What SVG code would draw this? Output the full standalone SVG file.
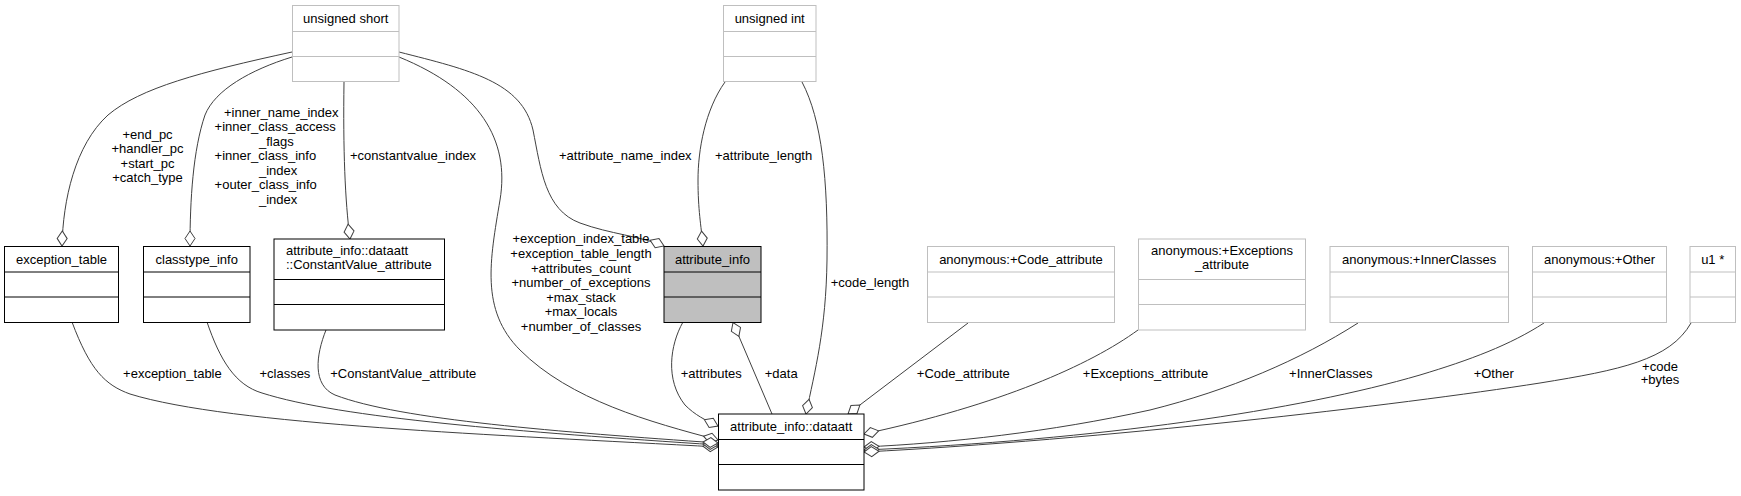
<svg xmlns="http://www.w3.org/2000/svg" width="1741" height="496" viewBox="0 0 1741 496">
<style>
text{font-family:"Liberation Sans",Arial,Helvetica,sans-serif;font-size:13px;fill:#000}
.m{text-anchor:middle}
.bk rect{fill:#fff;stroke:#000;stroke-width:1}
.gr rect{fill:#fff;stroke:#bfbfbf;stroke-width:1}
.bk line{stroke:#000;stroke-width:1}
.gr line{stroke:#bfbfbf;stroke-width:1}
.sel rect{fill:#bfbfbf}
#edges path{fill:none;stroke:#404040;stroke-width:1;marker-end:url(#od)}
</style>
<defs>
<marker id="od" markerUnits="userSpaceOnUse" markerWidth="18" markerHeight="14" viewBox="-1 -7 18 14" refX="16" refY="0" orient="auto">
<path d="M1,0 L8.5,-5 L16,0 L8.5,5 Z" fill="#fff" stroke="#404040" stroke-width="1"/>
</marker>
</defs>
<rect width="1741" height="496" fill="#fff"/>

<g id="edges">
<path d="M292,52 C200,72 140,88 108,115 C75,145 63,200 62,246"/>
<path d="M292,57 C250,70 215,90 205,115 C193,150 190,200 190,246"/>
<path d="M344,82 C343,150 345,200 350,239"/>
<path d="M399,57 C480,90 510,140 500,200 C490,260 480,310 520,350 C570,400 650,422 718,440"/>
<path d="M399,52 C470,70 522,82 533,130 C541,170 545,210 580,223 C610,234 640,236 664,246"/>
<path d="M725,82 C705,110 698,150 698,180 C698,210 701,225 703,246"/>
<path d="M802,82 C822,120 828,180 827,260 C826,330 815,370 806,414"/>
<path d="M683,322 C670,345 665,380 685,405 C695,415 705,420 718,426"/>
<path d="M772,414 L733,322.5"/>
<path d="M72,322 C90,370 105,385 130,394 C230,425 500,435 718,447"/>
<path d="M207,322 C220,360 235,385 262,393 C340,418 520,432 718,445"/>
<path d="M326,330 C316,355 312,385 335,395 C400,420 560,432 718,443"/>
<path d="M968,323 L848,414"/>
<path d="M1138,330 C1090,365 1000,405 864,434"/>
<path d="M1358,323 C1300,360 1230,390 1150,410 C1050,432 950,443 864,447"/>
<path d="M1544,323 C1510,345 1470,360 1420,375 C1300,410 1100,440 864,450"/>
<path d="M1691,323 C1670,360 1620,370 1540,383 C1400,405 1100,440 864,452"/>
</g>

<g id="edge-labels">
<text class="m" x="147.5" y="138.5">+end_pc</text>
<text class="m" x="147.5" y="153">+handler_pc</text>
<text class="m" x="147.5" y="167.5">+start_pc</text>
<text class="m" x="147.5" y="182">+catch_type</text>
<text x="224" y="116.7">+inner_name_index</text>
<text x="214.6" y="131.2">+inner_class_access</text>
<text x="259" y="145.7">_flags</text>
<text x="214.6" y="160.2">+inner_class_info</text>
<text x="259" y="174.7">_index</text>
<text x="214.6" y="189.2">+outer_class_info</text>
<text x="259" y="203.7">_index</text>
<text x="350" y="160">+constantvalue_index</text>
<text x="559" y="160">+attribute_name_index</text>
<text x="715" y="160">+attribute_length</text>
<text class="m" x="581" y="243.3">+exception_index_table</text>
<text class="m" x="581" y="258">+exception_table_length</text>
<text class="m" x="581" y="272.5">+attributes_count</text>
<text class="m" x="581" y="287">+number_of_exceptions</text>
<text class="m" x="581" y="301.5">+max_stack</text>
<text class="m" x="581" y="316">+max_locals</text>
<text class="m" x="581" y="330.5">+number_of_classes</text>
<text class="m" x="870" y="287.3">+code_length</text>
<text class="m" x="172.4" y="377.7">+exception_table</text>
<text class="m" x="284.9" y="377.7">+classes</text>
<text class="m" x="403.3" y="377.7">+ConstantValue_attribute</text>
<text class="m" x="711.3" y="377.7">+attributes</text>
<text class="m" x="781.2" y="377.7">+data</text>
<text class="m" x="963.3" y="377.7">+Code_attribute</text>
<text class="m" x="1145.5" y="377.7">+Exceptions_attribute</text>
<text class="m" x="1330.8" y="377.7">+InnerClasses</text>
<text class="m" x="1493.7" y="377.7">+Other</text>
<text class="m" x="1660" y="370.7">+code</text>
<text class="m" x="1660" y="384.3">+bytes</text>
</g>

<g id="unsigned_short" class="gr">
<rect x="292.5" y="5.5" width="106.5" height="76"/>
<line x1="292.5" y1="31.5" x2="399" y2="31.5"/><line x1="292.5" y1="56.5" x2="399" y2="56.5"/>
<text class="m" x="345.7" y="22.5">unsigned short</text>
</g>
<g id="unsigned_int" class="gr">
<rect x="723.5" y="5.5" width="92.5" height="76"/>
<line x1="723.5" y1="31.5" x2="816" y2="31.5"/><line x1="723.5" y1="56.5" x2="816" y2="56.5"/>
<text class="m" x="769.7" y="22.5">unsigned int</text>
</g>
<g id="exception_table" class="bk">
<rect x="4.5" y="246.5" width="114" height="76"/>
<line x1="4.5" y1="272" x2="118.5" y2="272"/><line x1="4.5" y1="297" x2="118.5" y2="297"/>
<text class="m" x="61.5" y="263.5">exception_table</text>
</g>
<g id="classtype_info" class="bk">
<rect x="143.5" y="246.5" width="106.5" height="76"/>
<line x1="143.5" y1="272" x2="250" y2="272"/><line x1="143.5" y1="297" x2="250" y2="297"/>
<text class="m" x="196.7" y="263.5">classtype_info</text>
</g>
<g id="constantvalue_attribute" class="bk">
<rect x="274" y="239" width="170.5" height="91"/>
<line x1="274" y1="279.5" x2="444.5" y2="279.5"/><line x1="274" y1="304.5" x2="444.5" y2="304.5"/>
<text x="286" y="254.5">attribute_info::dataatt</text>
<text x="286" y="269">::ConstantValue_attribute</text>
</g>
<g id="attribute_info" class="bk sel">
<rect x="664" y="246.5" width="97" height="76"/>
<line x1="664" y1="272" x2="761" y2="272"/><line x1="664" y1="297" x2="761" y2="297"/>
<text class="m" x="712.5" y="263.5">attribute_info</text>
</g>
<g id="dataatt" class="bk">
<rect x="718.5" y="414" width="145.5" height="76"/>
<line x1="718.5" y1="439.5" x2="864" y2="439.5"/><line x1="718.5" y1="464.5" x2="864" y2="464.5"/>
<text class="m" x="791.2" y="431">attribute_info::dataatt</text>
</g>
<g id="code_attribute" class="gr">
<rect x="927.5" y="246.5" width="187" height="76"/>
<line x1="927.5" y1="272" x2="1114.5" y2="272"/><line x1="927.5" y1="297" x2="1114.5" y2="297"/>
<text class="m" x="1021" y="263.5">anonymous:+Code_attribute</text>
</g>
<g id="exceptions_attribute" class="gr">
<rect x="1138.5" y="239" width="167" height="91"/>
<line x1="1138.5" y1="279.5" x2="1305.5" y2="279.5"/><line x1="1138.5" y1="304.5" x2="1305.5" y2="304.5"/>
<text class="m" x="1222" y="254.5">anonymous:+Exceptions</text>
<text class="m" x="1222" y="269">_attribute</text>
</g>
<g id="innerclasses" class="gr">
<rect x="1330" y="246.5" width="178.5" height="76"/>
<line x1="1330" y1="272" x2="1508.5" y2="272"/><line x1="1330" y1="297" x2="1508.5" y2="297"/>
<text class="m" x="1419.2" y="263.5">anonymous:+InnerClasses</text>
</g>
<g id="other" class="gr">
<rect x="1532.5" y="246.5" width="134" height="76"/>
<line x1="1532.5" y1="272" x2="1666.5" y2="272"/><line x1="1532.5" y1="297" x2="1666.5" y2="297"/>
<text class="m" x="1599.5" y="263.5">anonymous:+Other</text>
</g>
<g id="u1ptr" class="gr">
<rect x="1690" y="246.5" width="45.5" height="76"/>
<line x1="1690" y1="272" x2="1735.5" y2="272"/><line x1="1690" y1="297" x2="1735.5" y2="297"/>
<text class="m" x="1712.7" y="263.5">u1 *</text>
</g>
</svg>
